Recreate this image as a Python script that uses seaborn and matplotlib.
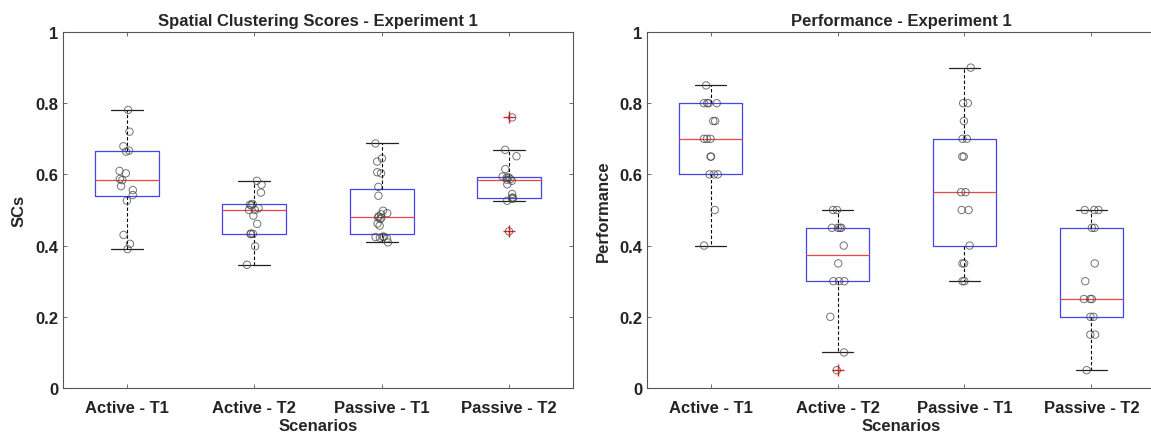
import numpy as np
import pandas as pd
import matplotlib
matplotlib.use("Agg")
import matplotlib.pyplot as plt
import seaborn as sns

categories = ["Active - T1", "Active - T2", "Passive - T1", "Passive - T2"]

# Spatial clustering scores (Experiment 1)
sc_active_t1 = [0.39, 0.405, 0.43, 0.526, 0.542, 0.556, 0.567, 0.584, 0.587, 0.603,
                0.61, 0.664, 0.667, 0.679, 0.72, 0.781]
sc_active_t2 = [0.346, 0.398, 0.432, 0.433, 0.434, 0.461, 0.484, 0.50, 0.50, 0.505,
                0.513, 0.515, 0.517, 0.549, 0.571, 0.582]
sc_passive_t1 = [0.409, 0.420, 0.422, 0.424, 0.425, 0.425, 0.456, 0.462, 0.475, 0.478,
                 0.479, 0.482, 0.488, 0.491, 0.498, 0.540, 0.565, 0.603, 0.606, 0.636,
                 0.645, 0.687]
sc_passive_t2 = [0.44, 0.526, 0.531, 0.534, 0.535, 0.545, 0.572, 0.582, 0.585, 0.587,
                 0.59, 0.592, 0.594, 0.615, 0.651, 0.669, 0.76]

# Performance (Experiment 1)
perf_active_t1 = [0.4, 0.5, 0.6, 0.6, 0.6, 0.65, 0.65, 0.7, 0.7, 0.7, 0.75, 0.75,
                  0.8, 0.8, 0.8, 0.8, 0.85]
perf_active_t2 = [0.05, 0.1, 0.2, 0.3, 0.3, 0.3, 0.35, 0.4, 0.45, 0.45, 0.45, 0.45,
                  0.5, 0.5]
perf_passive_t1 = [0.3, 0.3, 0.35, 0.35, 0.4, 0.5, 0.5, 0.55, 0.55, 0.65, 0.65, 0.7,
                   0.7, 0.75, 0.8, 0.8, 0.9]
perf_passive_t2 = [0.05, 0.15, 0.15, 0.2, 0.2, 0.25, 0.25, 0.25, 0.3, 0.35, 0.45,
                   0.45, 0.5, 0.5, 0.5]

ytick_vals = [0, 0.2, 0.4, 0.6, 0.8, 1]
ytick_labels = ["0", "0.2", "0.4", "0.6", "0.8", "1"]


def long_df(groups):
    rows = []
    for cat, vals in zip(categories, groups):
        for v in vals:
            rows.append((cat, v))
    return pd.DataFrame(rows, columns=["Scenario", "Value"])


df_sc = long_df([sc_active_t1, sc_active_t2, sc_passive_t1, sc_passive_t2])
df_perf = long_df([perf_active_t1, perf_active_t2, perf_passive_t1, perf_passive_t2])

sns.set_theme(style="white")
plt.rcParams["font.family"] = ["Liberation Sans", "DejaVu Sans"]
plt.rcParams["font.weight"] = "bold"

W, H = 1151, 439
fig = plt.figure(figsize=(W / 100, H / 100), dpi=100)
ax1 = fig.add_axes([63 / W, (H - 389) / H, 510 / W, 356 / H])
ax2 = fig.add_axes([647 / W, (H - 389) / H, 508 / W, 356 / H])


def draw(ax, df, title, ylabel, seed):
    sns.boxplot(data=df, x="Scenario", y="Value", order=categories, ax=ax,
                fill=False, width=0.5, whis=1.5, linecolor="#3a3aee", linewidth=0.9,
                boxprops=dict(color="#4444ee", linewidth=0.9),
                medianprops=dict(color="#ee4444", linewidth=0.9),
                whiskerprops=dict(color="black", linestyle=(0, (3, 2)), linewidth=0.8),
                capprops=dict(color="#222222", linewidth=0.9),
                flierprops=dict(marker="+", markeredgecolor="#dd2222", markersize=8,
                                markeredgewidth=1.0),
                capwidths=0.25)
    np.random.seed(seed)
    sns.stripplot(data=df, x="Scenario", y="Value", order=categories, ax=ax,
                  jitter=0.06, size=5.3, color="none", edgecolor="#444444",
                  linewidth=0.7, alpha=0.75)
    ax.set_xlim(-0.5, 3.5)
    ax.set_ylim(0, 1)
    ax.set_yticks(ytick_vals)
    ax.set_yticklabels(ytick_labels)
    ax.set_title(title, fontsize=12, fontweight="bold", pad=5)
    ax.set_xlabel("Scenarios", fontsize=12, fontweight="bold", labelpad=2)
    ax.set_ylabel(ylabel, fontsize=12, fontweight="bold", labelpad=6)
    ax.tick_params(axis="both", direction="in", length=3, width=0.6, colors="#555555",
                   labelcolor="#222222", labelsize=12, top=True, right=True,
                   left=True, bottom=True)
    ax.tick_params(axis="x", pad=9)
    for lab in ax.get_xticklabels() + ax.get_yticklabels():
        lab.set_fontweight("bold")
    for sp in ax.spines.values():
        sp.set_visible(True)
        sp.set_color("#555555")
        sp.set_linewidth(0.8)


draw(ax1, df_sc, "Spatial Clustering Scores - Experiment 1", "SCs", 3)
draw(ax2, df_perf, "Performance - Experiment 1", "Performance", 7)

fig.savefig("out.png", dpi=100)
